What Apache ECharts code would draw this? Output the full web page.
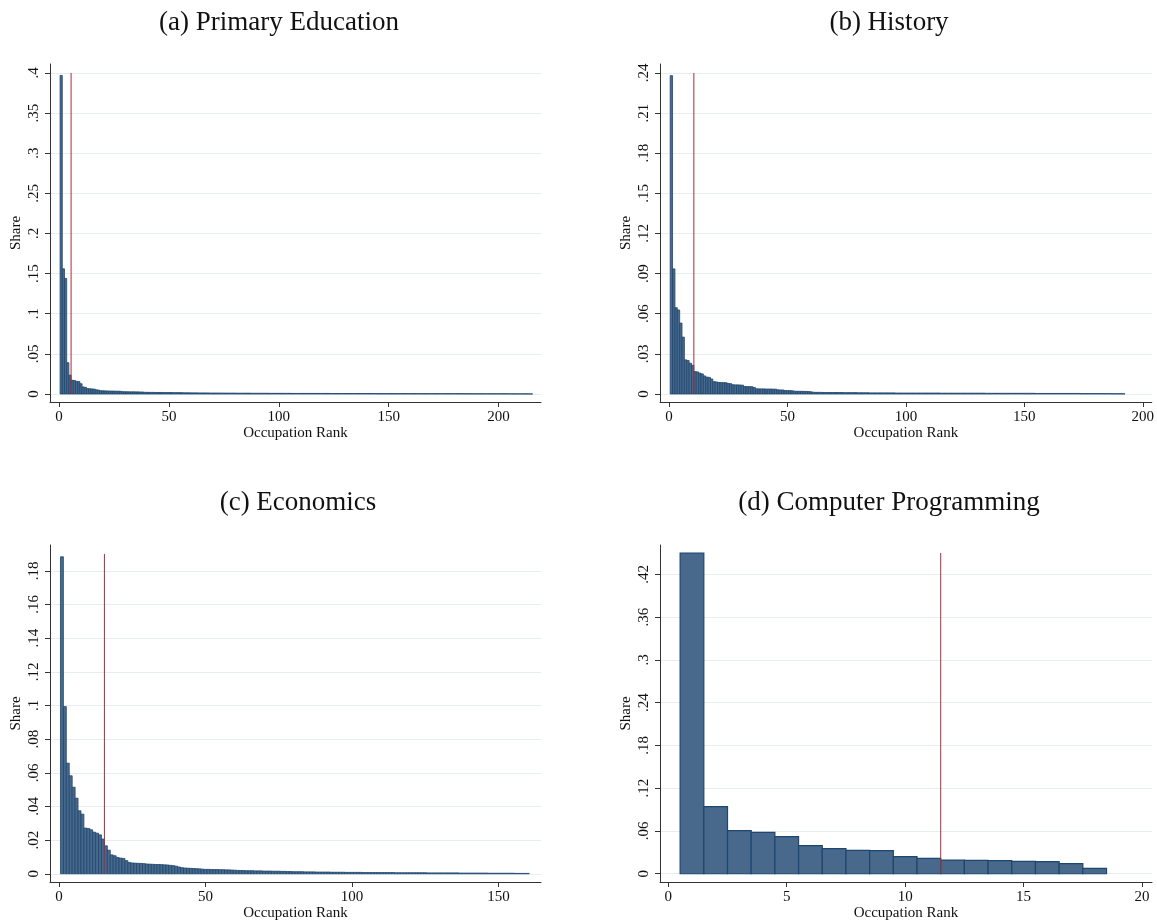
<!DOCTYPE html>
<html>
<head>
<meta charset="utf-8">
<script src="https://cdn.jsdelivr.net/npm/echarts@6/dist/echarts.min.js"></script>
<style>
html,body{margin:0;padding:0;background:#fff;}
#chart{width:1157px;height:924px;}
</style>
</head>
<body>
<div id="chart"></div>
<script>
// ---------- data ----------
const titles = ["(a) Primary Education", "(b) History", "(c) Economics", "(d) Computer Programming"];

const shareA = [
0.397,0.156,0.144,0.039,0.0235,0.0172,0.0168,0.0158,0.0155,0.0128,
0.0088,0.0083,0.0068,0.0065,0.0063,0.0061,0.0052,0.0049,0.0041,0.0040,
0.0039,0.0038,0.0037,0.0037,0.0036,0.0035,0.0035,0.0034,0.0029,0.0028,
0.0028,0.0027,0.0027,0.0027,0.0026,0.0026,0.0025,0.0025,0.0021,0.0021,
0.0020,0.0020,0.0020,0.0019,0.0019,0.0019,0.0019,0.0018,0.0018,0.0018,
0.0018,0.0017,0.0017,0.0017,0.0017,0.0016,0.0015,0.0015,0.0015,0.0014,
0.0014,0.0014,0.0014,0.0013,0.0013,0.0013,0.0013,0.0013,0.0012,0.0012,
0.0012,0.0012,0.0012,0.0012,0.0011,0.0011,0.0011,0.0011,0.0011,0.0011,
0.0010,0.0010,0.0010,0.0010,0.0010,0.0010,0.0010,0.0009,0.0009,0.0009,
0.0009,0.0009,0.0009,0.0009,0.0009,0.0008,0.0008,0.0008,0.0008,0.0008,
0.0008,0.0008,0.0008,0.0008,0.0008,0.0007,0.0007,0.0007,0.0007,0.0007,
0.0007,0.0007,0.0007,0.0007,0.0007,0.0007,0.0007,0.0007,0.0007,0.0007,
0.0007,0.0007,0.0007,0.0006,0.0006,0.0006,0.0006,0.0006,0.0006,0.0006,
0.0006,0.0006,0.0006,0.0006,0.0006,0.0006,0.0006,0.0006,0.0006,0.0006,
0.0006,0.0006,0.0006,0.0006,0.0005,0.0005,0.0005,0.0005,0.0005,0.0005,
0.0005,0.0005,0.0005,0.0005,0.0005,0.0005,0.0005,0.0005,0.0005,0.0005,
0.0005,0.0005,0.0005,0.0005,0.0004,0.0004,0.0004,0.0004,0.0004,0.0004,
0.0004,0.0004,0.0004,0.0004,0.0004,0.0004,0.0004,0.0004,0.0004,0.0004,
0.0004,0.0004,0.0004,0.0004,0.0004,0.0003,0.0003,0.0003,0.0003,0.0003,
0.0003,0.0003,0.0003,0.0003,0.0003,0.0003,0.0003,0.0003,0.0003,0.0003,
0.0003,0.0003,0.0003,0.0003,0.0002,0.0002,0.0002,0.0002,0.0002,0.0002,
0.0002,0.0002,0.0002,0.0001,0.0001
];

const shareB = [
0.238,0.0935,0.0645,0.0628,0.053,0.0425,0.0255,0.0250,0.0230,0.0215,
0.0167,0.0165,0.0156,0.0150,0.0135,0.0126,0.0124,0.0112,0.0092,0.0090,
0.0086,0.0085,0.0085,0.0084,0.0079,0.0077,0.0069,0.0068,0.0068,0.0067,
0.0066,0.0056,0.0055,0.0055,0.0054,0.0048,0.0039,0.0038,0.0038,0.0038,
0.0037,0.0037,0.0037,0.0036,0.0036,0.0031,0.0030,0.0030,0.0026,0.0025,
0.0025,0.0024,0.0021,0.0020,0.0020,0.0020,0.0019,0.0019,0.0018,0.0016,
0.0013,0.0012,0.0012,0.0012,0.0011,0.0011,0.0011,0.0011,0.0011,0.0011,
0.0011,0.0011,0.0011,0.0010,0.0010,0.0010,0.0010,0.0010,0.0010,0.0009,
0.0009,0.0009,0.0009,0.0009,0.0008,0.0008,0.0008,0.0008,0.0008,0.0008,
0.0008,0.0008,0.0008,0.0008,0.0008,0.0007,0.0007,0.0007,0.0007,0.0007,
0.0007,0.0007,0.0007,0.0007,0.0007,0.0007,0.0007,0.0007,0.0007,0.0007,
0.0007,0.0007,0.0007,0.0007,0.0006,0.0006,0.0006,0.0006,0.0006,0.0006,
0.0006,0.0006,0.0006,0.0006,0.0006,0.0006,0.0006,0.0006,0.0006,0.0006,
0.0006,0.0006,0.0006,0.0005,0.0005,0.0005,0.0005,0.0005,0.0005,0.0005,
0.0005,0.0005,0.0005,0.0005,0.0005,0.0005,0.0005,0.0005,0.0005,0.0005,
0.0005,0.0005,0.0005,0.0005,0.0004,0.0004,0.0004,0.0004,0.0004,0.0004,
0.0004,0.0004,0.0004,0.0004,0.0004,0.0004,0.0004,0.0004,0.0004,0.0004,
0.0004,0.0004,0.0004,0.0003,0.0003,0.0003,0.0003,0.0003,0.0003,0.0003,
0.0003,0.0003,0.0003,0.0003,0.0003,0.0003,0.0002,0.0002,0.0002,0.0002,
0.0002,0.0001
];

const shareC = [
0.1883,0.0993,0.0657,0.0582,0.0514,0.0449,0.0374,0.0354,0.0271,0.0269,
0.0261,0.0247,0.0241,0.0231,0.0206,0.0166,0.0140,0.0112,0.0107,0.0097,
0.0093,0.0091,0.0078,0.0067,0.0064,0.0063,0.0062,0.0061,0.0060,0.0058,
0.0057,0.0056,0.0055,0.0055,0.0054,0.0053,0.0052,0.0050,0.0048,0.0045,
0.0040,0.0036,0.0034,0.0033,0.0032,0.0031,0.0030,0.0029,0.0027,0.0026,
0.0026,0.0025,0.0025,0.0025,0.0024,0.0024,0.0023,0.0023,0.0022,0.0021,
0.0020,0.0019,0.0019,0.0018,0.0018,0.0018,0.0017,0.0017,0.0017,0.0016,
0.0016,0.0016,0.0015,0.0015,0.0015,0.0014,0.0014,0.0013,0.0013,0.0012,
0.0012,0.0012,0.0012,0.0011,0.0011,0.0011,0.0011,0.0010,0.0010,0.0010,
0.0010,0.0010,0.0009,0.0009,0.0009,0.0009,0.0009,0.0008,0.0008,0.0008,
0.0008,0.0008,0.0008,0.0007,0.0007,0.0007,0.0007,0.0007,0.0007,0.0007,
0.0007,0.0007,0.0007,0.0007,0.0006,0.0006,0.0006,0.0006,0.0006,0.0006,
0.0006,0.0006,0.0006,0.0006,0.0006,0.0005,0.0005,0.0005,0.0005,0.0005,
0.0005,0.0005,0.0005,0.0005,0.0005,0.0005,0.0004,0.0004,0.0004,0.0004,
0.0004,0.0004,0.0004,0.0004,0.0004,0.0004,0.0003,0.0003,0.0003,0.0003,
0.0003,0.0003,0.0003,0.0003,0.0003,0.0002,0.0002,0.0002,0.0002,0.0002
];

const shareD = [
0.450,0.0942,0.0605,0.0581,0.0520,0.0394,0.0352,0.0328,0.0323,0.0239,
0.0216,0.0192,0.0188,0.0183,0.0173,0.0169,0.0141,0.0075
];

// cutoff (vertical line) rank and its height
const cutoffRank = [5.5, 10.5, 15.5, 11.5];
const cutoffTop  = [0.40, 0.24, 0.19, 0.45];

// tick values
const yTicksA = [0, 0.05, 0.1, 0.15, 0.2, 0.25, 0.3, 0.35, 0.4];
const yTicksB = [0, 0.03, 0.06, 0.09, 0.12, 0.15, 0.18, 0.21, 0.24];
const yTicksC = [0, 0.02, 0.04, 0.06, 0.08, 0.1, 0.12, 0.14, 0.16, 0.18];
const yTicksD = [0, 0.06, 0.12, 0.18, 0.24, 0.3, 0.36, 0.42];
const xTicksA = [0, 50, 100, 150, 200];
const xTicksB = [0, 50, 100, 150, 200];
const xTicksC = [0, 50, 100, 150];
const xTicksD = [0, 5, 10, 15, 20];

// ---------- layout ----------
const FONT = 'Liberation Serif';
const panels = [
  {share: shareA, yt: yTicksA, xt: xTicksA, grid: {left: 50, top: 64, width: 491, height: 338}, xr: [-4.09, 219.3], yr: [-0.00997, 0.4112], title: [274, 4]},
  {share: shareB, yt: yTicksB, xt: xTicksB, grid: {left: 660, top: 64, width: 492, height: 338}, xr: [-3.8, 203.8], yr: [-0.006, 0.2467], title: [884, 4]},
  {share: shareC, yt: yTicksC, xt: xTicksC, grid: {left: 50, top: 545, width: 491, height: 337}, xr: [-3.07, 164.5], yr: [-0.0049, 0.1953], title: [293, 484]},
  {share: shareD, yt: yTicksD, xt: xTicksD, grid: {left: 660, top: 545, width: 492, height: 337}, xr: [-0.35, 20.42], yr: [-0.0116, 0.4612], title: [884, 484]}
];

function fmt(v) {
  const s = String(+v.toFixed(3));
  return s.replace(/^0\./, '.');
}

const option = {
  animation: false,
  backgroundColor: '#fff',
  title: panels.map((p, i) => ({
    text: titles[i], left: p.title[0], top: p.title[1], textAlign: 'center',
    textStyle: {fontFamily: FONT, fontSize: 27, fontWeight: 'normal', color: '#111'}
  })),
  grid: panels.map(p => Object.assign({containLabel: false}, p.grid)),
  xAxis: panels.map((p, i) => ({
    type: 'value', gridIndex: i, min: p.xr[0], max: p.xr[1],
    name: 'Occupation Rank', nameLocation: 'middle', nameGap: 23,
    nameTextStyle: {fontFamily: FONT, fontSize: 15, color: '#111'},
    axisLine: {show: true, onZero: false, lineStyle: {color: '#333', width: 1}},
    axisTick: {show: true, length: 5, customValues: p.xt, lineStyle: {color: '#333'}},
    axisLabel: {customValues: p.xt, fontFamily: FONT, fontSize: 15, color: '#111', margin: 8,
      formatter: v => String(v)},
    splitLine: {show: false}
  })),
  yAxis: panels.map((p, i) => ({
    type: 'value', gridIndex: i, min: p.yr[0], max: p.yr[1],
    name: 'Share', nameLocation: 'middle', nameGap: 26, nameRotate: 90,
    nameTextStyle: {fontFamily: FONT, fontSize: 15, color: '#111'},
    axisLine: {show: true, onZero: false, lineStyle: {color: '#333', width: 1}},
    axisTick: {show: true, length: 5, customValues: p.yt, lineStyle: {color: '#333'}},
    axisLabel: {customValues: p.yt, rotate: 90, fontFamily: FONT, fontSize: 15, color: '#111', margin: 8,
      formatter: v => fmt(v)},
    splitLine: {show: true, lineStyle: {color: '#e6eef0', width: 1}}
  })),
  series: []
};

panels.forEach((p, i) => {
  option.series.push({
    type: 'custom', xAxisIndex: i, yAxisIndex: i,
    data: p.share.map((v, k) => [k + 1, v]),
    encode: {x: 0, y: 1},
    renderItem: function (params, api) {
      const x = api.value(0), y = api.value(1);
      const a = api.coord([x - 0.5, y]);
      const b = api.coord([x + 0.5, 0]);
      return {
        type: 'rect',
        shape: {x: a[0], y: a[1], width: b[0] - a[0], height: b[1] - a[1]},
        style: {fill: '#48698b', stroke: '#1d4670', lineWidth: i === 3 ? 1.2 : 0.8}
      };
    }
  });
  option.series.push({
    type: 'line', xAxisIndex: i, yAxisIndex: i, symbol: 'none',
    data: [[cutoffRank[i], 0], [cutoffRank[i], cutoffTop[i]]],
    lineStyle: {color: '#a3303c', width: 1}, z: 5
  });
});

const chart = echarts.init(document.getElementById('chart'), null, {renderer: 'canvas'});
chart.setOption(option);
</script>
</body>
</html>
